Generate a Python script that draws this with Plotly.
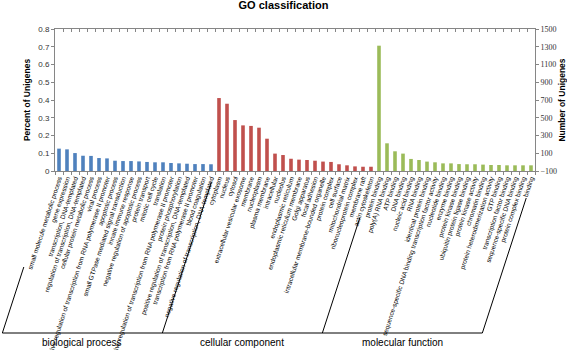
import plotly.graph_objects as go

bp_labels = [
    "small molecule metabolic process", "gene expression", "transcription, DNA-templated",
    "regulation of transcription, DNA-templated", "cellular protein metabolic process",
    "viral process", "positive regulation of transcription from RNA polymerase II promoter",
    "apoptotic process", "small GTPase mediated signal transduction", "innate immune response",
    "negative regulation of apoptotic process", "protein transport", "mitotic cell cycle",
    "translation", "negative regulation of transcription from RNA polymerase II promoter",
    "protein phosphorylation", "positive regulation of transcription, DNA-templated",
    "transcription from RNA polymerase II promoter", "blood coagulation",
    "negative regulation of transcription, DNA-templated",
]
bp_values = [0.126, 0.122, 0.101, 0.086, 0.085, 0.073, 0.071, 0.058, 0.056, 0.056,
             0.054, 0.051, 0.049, 0.049, 0.045, 0.043, 0.041, 0.039, 0.039, 0.038]

cc_labels = [
    "cytoplasm", "nucleus", "cytosol", "extracellular vesicular exosome", "membrane",
    "nucleoplasm", "plasma membrane", "intracellular", "nucleolus", "endoplasmic reticulum",
    "endoplasmic reticulum membrane", "Golgi apparatus", "focal adhesion",
    "intracellular membrane-bounded organelle", "protein complex", "cell surface",
    "mitochondrial matrix", "ribonucleoprotein complex", "membrane raft", "actin cytoskeleton",
]
cc_values = [0.411, 0.379, 0.287, 0.257, 0.254, 0.244, 0.182, 0.098, 0.090, 0.069,
             0.064, 0.062, 0.058, 0.053, 0.051, 0.038, 0.032, 0.026, 0.024, 0.024]

mf_labels = [
    "protein binding", "poly(A) RNA binding", "ATP binding", "DNA binding",
    "nucleic acid binding", "RNA binding", "identical protein binding",
    "sequence-specific DNA binding transcription factor activity", "nucleotide binding",
    "enzyme binding", "protein kinase binding", "ubiquitin protein ligase binding",
    "protein kinase activity", "chromatin binding", "protein heterodimerization activity",
    "GTP binding", "transcription factor binding", "sequence-specific DNA binding",
    "protein complex binding", "binding",
]
mf_values = [0.706, 0.156, 0.111, 0.098, 0.068, 0.062, 0.053, 0.049, 0.043, 0.043,
             0.039, 0.038, 0.038, 0.036, 0.034, 0.034, 0.032, 0.032, 0.032, 0.032]

group_names = ["biological process", "cellular component", "molecular function"]
group_colors = ["#4F81BD", "#C0504D", "#9BBB59"]

title_text = "GO classification"
left_title = "Percent of Unigenes"
right_title = "Number of Unigenes"

# ---- layout constants (pixels) ----
W, H = 567, 350
ML, MR, MT, MB = 55, 32, 29, 179
PW = W - ML - MR
PH = H - MT - MB
SLOPE = 0.325          # horizontal px per vertical px along the label direction
BOTTOM = 162           # px from axis to group baseline
LABEL_Y = 171          # px from axis to group label centre
line_starts = [96, 11, 47, 27]   # px below axis where separator lines begin
AXCOL = "#868686"
FONT = "Liberation Sans"

groups = [(bp_labels, bp_values), (cc_labels, cc_values), (mf_labels, mf_values)]
all_labels = bp_labels + cc_labels + mf_labels
n = len(all_labels)

fig = go.Figure()
for (labs, vals), name, col in zip(groups, group_names, group_colors):
    fig.add_trace(go.Bar(x=labs, y=vals, name=name, marker=dict(color=col, line=dict(width=0)),
                         showlegend=False))
# empty helper trace so that the secondary (top / right) axes are drawn
fig.add_trace(go.Scatter(x=[0], y=[None], xaxis="x2", yaxis="y2", mode="markers",
                         showlegend=False, hoverinfo="skip"))


def px_to_paper_x(b_index, dx_px):
    return (b_index + 0.5) / n + dx_px / PW


shapes = []
bounds = [-0.5]
for labs, _ in groups:
    bounds.append(bounds[-1] + len(labs))
for b, s in zip(bounds, line_starts):
    shapes.append(dict(type="line", xref="paper", yref="paper",
                       x0=px_to_paper_x(b, -s * SLOPE), y0=-s / PH,
                       x1=px_to_paper_x(b, -BOTTOM * SLOPE), y1=-BOTTOM / PH,
                       line=dict(color="#000000", width=1)))
shapes.append(dict(type="line", xref="paper", yref="paper",
                   x0=px_to_paper_x(bounds[0], -BOTTOM * SLOPE), y0=-BOTTOM / PH,
                   x1=px_to_paper_x(bounds[-1], -BOTTOM * SLOPE), y1=-BOTTOM / PH,
                   line=dict(color="#000000", width=1)))

annotations = []
for i, name in enumerate(group_names):
    mid = (bounds[i] + bounds[i + 1]) / 2
    annotations.append(dict(text=name, xref="paper", yref="paper",
                            x=px_to_paper_x(mid, -BOTTOM * SLOPE), y=-LABEL_Y / PH,
                            showarrow=False, xanchor="center", yanchor="middle",
                            font=dict(family=FONT, size=10, color="#000000")))

fig.update_layout(
    width=W, height=H,
    margin=dict(l=ML, r=MR, t=MT, b=MB, autoexpand=False),
    paper_bgcolor="white", plot_bgcolor="white",
    font=dict(family=FONT),
    barmode="overlay", bargap=0.55,
    title=dict(text="<b>" + title_text + "</b>", x=0.5, xanchor="center", y=0.995, yanchor="top",
               font=dict(family=FONT, size=11, color="#000000")),
    xaxis=dict(type="category", categoryorder="array", categoryarray=all_labels,
               tickmode="array", tickvals=all_labels, ticktext=all_labels,
               range=[-0.5, n - 0.5],
               tickangle=-72, tickfont=dict(family=FONT, size=6.5, color="#000000"),
               ticks="outside", ticklen=3, tickcolor=AXCOL, tickson="boundaries",
               showline=True, linecolor=AXCOL, linewidth=1, showgrid=False, zeroline=False),
    xaxis2=dict(overlaying="x", side="top", anchor="y2", type="linear", range=[-0.5, n - 0.5],
                tickmode="array", tickvals=[i - 0.5 for i in range(n + 1)],
                ticks="inside", ticklen=3, tickcolor=AXCOL, showticklabels=False,
                showline=True, linecolor=AXCOL, linewidth=1, showgrid=False, zeroline=False),
    yaxis=dict(range=[0, 0.8], dtick=0.1, ticks="outside", ticklen=3,
               tickcolor=AXCOL, showline=True, linecolor=AXCOL, linewidth=1,
               showgrid=False, zeroline=False,
               tickfont=dict(family=FONT, size=8, color="#333333"),
               title=dict(text="<b>" + left_title + "</b>", standoff=6,
                          font=dict(family=FONT, size=8.5, color="#000000"))),
    yaxis2=dict(overlaying="y", side="right", anchor="x2", range=[-100, 1500], dtick=200,
                tick0=-100, ticks="outside", ticklen=3, tickcolor=AXCOL,
                showline=True, linecolor=AXCOL, linewidth=1, showgrid=False, zeroline=False,
                tickfont=dict(family="Liberation Serif", size=8, color="#333333"),
                title=dict(text="<b>" + right_title + "</b>", standoff=4,
                           font=dict(family=FONT, size=8.5, color="#000000"))),
    shapes=shapes,
    annotations=annotations,
)

fig.write_html("out.html", config={"displayModeBar": False},
               post_script="document.body.style.margin='0px';")
